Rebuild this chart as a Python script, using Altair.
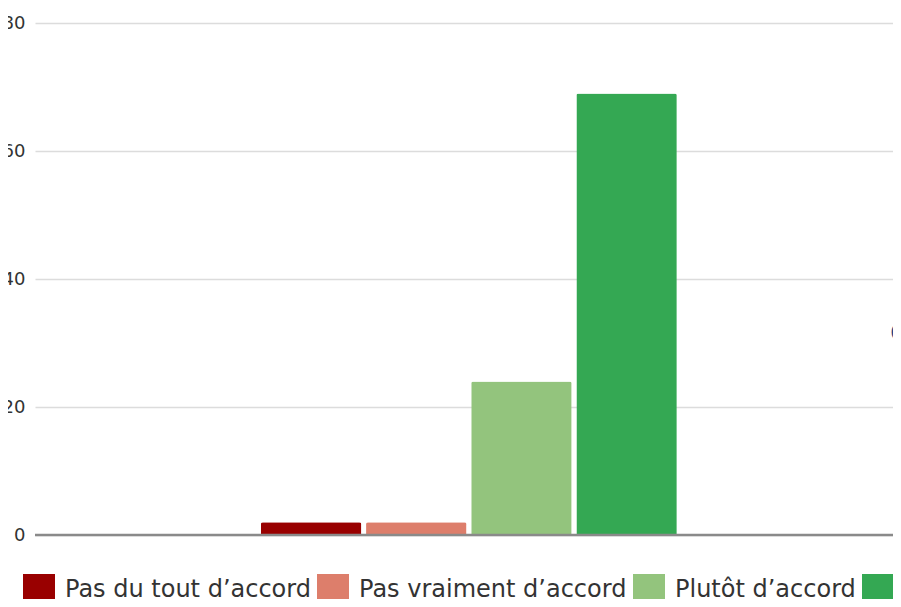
import altair as alt
import pandas as pd

series = ["Pas du tout d’accord", "Pas vraiment d’accord", "Plutôt d’accord", "Tout à fait d’accord"]
values = [2, 2, 24, 69]
colors = ["#990000", "#dd7e6b", "#93c47d", "#34a853"]
groups = ["", "", "", ""]
y_ticks = [0, 20, 40, 60, 80]
side_text = ["C"]

df = pd.DataFrame({"groupe": groups, "serie": series, "valeur": values})

bars = alt.Chart(df).mark_bar(cornerRadiusTopLeft=2, cornerRadiusTopRight=2).encode(
    x=alt.X("groupe:N", axis=None,
            scale=alt.Scale(paddingInner=0, paddingOuter=0.5263, align=0.511)),
    xOffset=alt.XOffset("serie:N", sort=series,
                        scale=alt.Scale(domain=series, paddingInner=0.045, paddingOuter=0.01)),
    y=alt.Y("valeur:Q", scale=alt.Scale(domain=[0, 80], nice=False),
            axis=alt.Axis(values=y_ticks, title=None, ticks=False, domain=False,
                          labelPadding=10, labelFontSize=18, labelColor="#333",
                          labelFont="DejaVu Sans", gridColor="#dcdcdc", gridWidth=1.5)),
    color=alt.Color("serie:N", sort=series, scale=alt.Scale(domain=series, range=colors),
                    legend=alt.Legend(orient="none", legendX=-12, legendY=551,
                                      direction="horizontal", columns=4, title=None,
                                      symbolType="square", symbolSize=1024,
                                      symbolStrokeWidth=0, symbolOpacity=1,
                                      labelFontSize=24, labelFont="DejaVu Sans",
                                      labelColor="#333", labelOffset=10,
                                      columnPadding=6, labelLimit=0, padding=0)),
)

baseline = alt.Chart(pd.DataFrame({"zero": [0]})).mark_rule(
    color="#8a8a8a", strokeWidth=2.5
).encode(y="zero:Q")

ctext = alt.Chart(pd.DataFrame({"t": side_text})).mark_text(
    align="left", baseline="middle", fontSize=26, color="#1c4587", font="Open Sans"
).encode(text="t:N", x=alt.value(855), y=alt.value(310))

chart = alt.layer(bars, baseline, ctext).properties(
    width=858, height=512,
    autosize=alt.AutoSizeParams(type="none"),
    padding={"left": 27, "top": 15, "right": 0, "bottom": 64},
    background="white",
).configure_view(stroke=None)

chart.save("out.html", embed_options={"renderer": "svg", "actions": False})
